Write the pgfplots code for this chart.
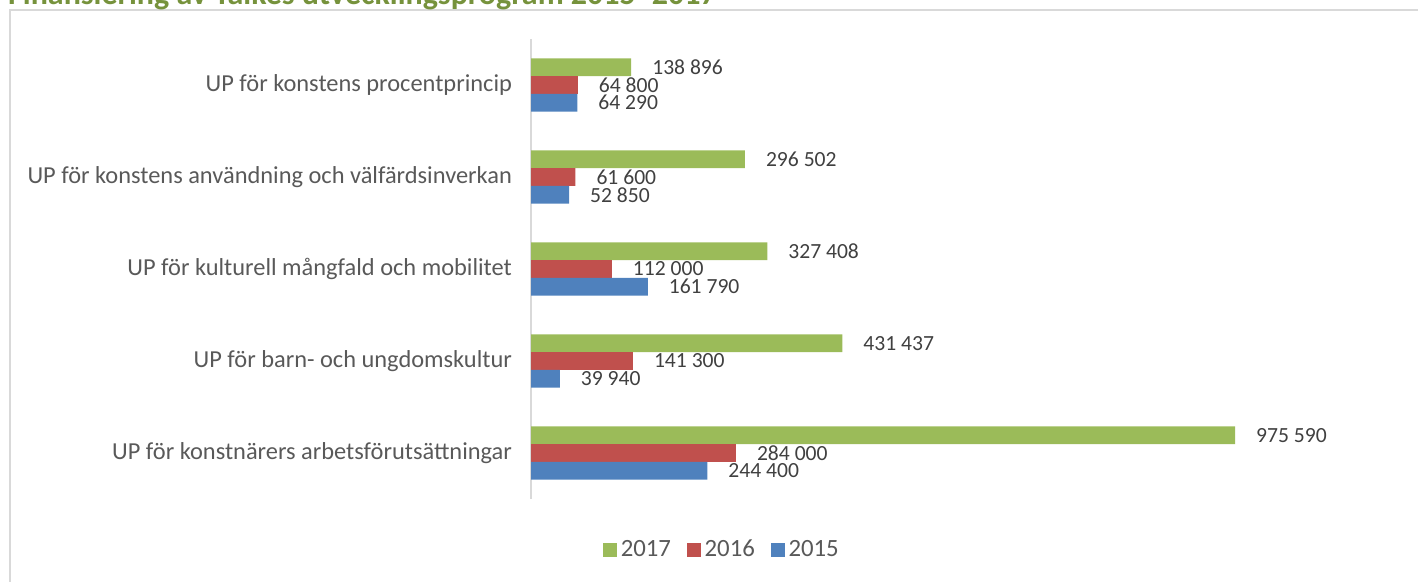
\documentclass[border=0pt]{standalone}
\usepackage{fontspec}
\setmainfont{Carlito}
\usepackage{pgfplots}
\pgfplotsset{compat=1.18}
\definecolor{g17}{HTML}{9BBB59}
\definecolor{r16}{HTML}{C0504D}
\definecolor{b15}{HTML}{4F81BD}
\definecolor{frameGray}{HTML}{D9D9D9}
\definecolor{titleGreen}{HTML}{76923C}
\definecolor{lblGray}{HTML}{404040}
\definecolor{catGray}{HTML}{595959}

\begin{document}
\begin{tikzpicture}
% frame and (cut) title, 1px = 0.5pt, image top = y 0
\draw[frameGray, line width=1pt] (5pt,-300pt) -- (5pt,-5.25pt) -- (720pt,-5.25pt);
\node[anchor=base east, inner sep=0pt, font=\fontsize{16}{18}\selectfont\bfseries, text=titleGreen]
  at (358.5pt,-2.4pt) {Finansiering av Taikes utvecklingsprogram 2015–2017};

\begin{axis}[
  xbar,
  scale only axis,
  width=433pt, height=230pt,
  at={(265.5pt,-249.5pt)}, anchor=south west,
  xmin=0, xmax=1200000,
  ymin=-0.5, ymax=4.5,
  y dir=reverse,
  hide x axis,
  axis y line*=left,
  y axis line style={draw=frameGray, line width=1pt, -},
  ytick={0,1,2,3,4},
  yticklabels={UP för konstens procentprincip,
    UP för konstens användning och välfärdsinverkan,
    UP för kulturell mångfald och mobilitet,
    UP för barn- och ungdomskultur,
    UP för konstnärers arbetsförutsättningar},
  major tick length=0pt,
  yticklabel style={font=\fontsize{12.2}{14}\selectfont, text=catGray, xshift=-6pt},
  bar width=8.85pt,
  nodes near coords,
  point meta=x,
  nodes near coords style={font=\fontsize{10.8}{13}\selectfont, text=lblGray, anchor=west, xshift=7pt,
    /pgf/number format/.cd, fixed, precision=0, 1000 sep={\ }, assume math mode=true},
  legend columns=3,
  legend style={at={(0.2217,-0.1109)}, anchor=center, draw=none, fill=none,
    font=\fontsize{12.4}{14}\selectfont, text=catGray,
    /tikz/every even column/.append style={column sep=6pt}},
  legend image code/.code={\fill[#1] (0pt,-3.4pt) rectangle (6.8pt,3.4pt);},
]
\addplot[fill=g17, draw=none, bar shift=8.85pt] coordinates {
  (138896,0) (296502,1) (327408,2) (431437,3) (975590,4)};
\addplot[fill=r16, draw=none, bar shift=0pt] coordinates {
  (64800,0) (61600,1) (112000,2) (141300,3) (284000,4)};
\addplot[fill=b15, draw=none, bar shift=-8.85pt] coordinates {
  (64290,0) (52850,1) (161790,2) (39940,3) (244400,4)};
\legend{2017,2016,2015}
\end{axis}
\pgfresetboundingbox
\path[use as bounding box] (0,0) rectangle (709pt,-291pt);
\end{tikzpicture}
\end{document}
